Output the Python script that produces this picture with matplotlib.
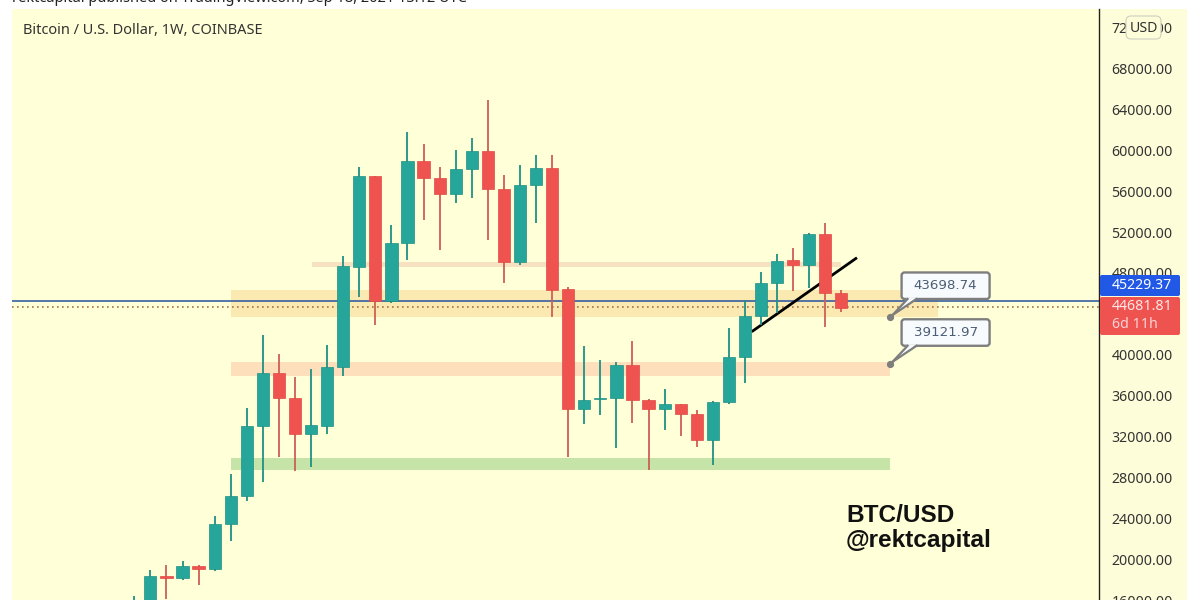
import matplotlib
matplotlib.use("Agg")
import matplotlib.pyplot as plt
from matplotlib.patches import FancyBboxPatch, Polygon, Rectangle
from matplotlib.lines import Line2D
from matplotlib.transforms import IdentityTransform

W, H = 1200, 600

# weekly candles
opens = [14063, 15432, 18396, 18142, 19344, 19051, 23423, 26220, 33007, 38190, 35804, 32254, 33066, 38836, 48615,
         57486, 45261, 50963, 58953, 57320, 55755, 58200, 59931, 56244, 49105, 56606, 58239, 46406, 34670, 35648,
         35746, 38972, 35550, 34699, 35217, 34181, 31667, 35354, 39814, 43794, 46992, 49242, 48782, 51785, 46014]
highs = [16410, 18953, 19443, 19833, 19443, 24234, 28312, 34767, 41936, 40078, 37858, 38581, 40958, 49662, 58337,
         57486, 52665, 61760, 60616, 58396, 60029, 61173, 64919, 57584, 58533, 59540, 59569, 46660, 40890, 39491,
         39326, 41349, 35677, 36626, 35217, 34601, 35481, 42591, 45359, 48127, 49828, 50474, 51882, 52861, 46337]
lows = [14000, 14552, 16068, 17975, 17486, 18885, 21819, 25731, 27589, 30034, 28664, 29056, 32254, 37974, 45682,
        42914, 45066, 49271, 53183, 50249, 54875, 55364, 51227, 46992, 48782, 52861, 43726, 29975, 33232, 34112,
        30914, 33300, 28733, 32645, 32088, 30953, 29222, 35159, 37271, 42914, 44088, 46239, 46533, 42748, 44186]
closes = [15628, 18396, 18142, 19344, 19080, 23423, 26190, 33036, 38190, 35804, 32254, 33105, 38836, 48684, 57486,
          45261, 50963, 58953, 57320, 55755, 58200, 59931, 56244, 49105, 56577, 58239, 46366, 34699, 35579, 35746,
          38972, 35550, 34699, 35217, 34181, 31667, 35383, 39814, 43794, 46992, 49203, 48782, 51785, 46014, 44606]

# horizontal zones: first candle, last candle, low, high, colour
zone_names = ["top", "mid", "low", "floor"]
zone_x0 = [11.04, 6.02, 6.02, 6.02]
zone_x1 = [44.0, 50.0, 47.0, 47.0]
zone_lo = [48615, 43667, 37974, 28733]
zone_hi = [49105, 46337, 39325, 29908]
zone_col = ["#F6E2C0", "#FBE9B2", "#FDDFBC", "#C6E4A8"]

trend_x = [38.42, 44.97]
trend_y = [42258, 49496]

last_price = 45229.37
mark_price = 44681.81
callout_prices = [43698.74, 39121.97]
callout_x = 47.0

# 44000 is hidden behind the price tags in the source
price_ticks = [16000, 20000, 24000, 28000, 32000, 36000, 40000, 48000,
               52000, 56000, 60000, 64000, 68000, 72000]

GREEN = "#26A69A"
RED = "#EF5350"
GREEN_WICK = "#1F9184"
RED_WICK = "#CC5F58"
BG = "#FFFFD8"
FONT = "Noto Sans"

fig = plt.figure(figsize=(W / 100, H / 100), dpi=100, facecolor="white")

# right hand price scale background, under the axes
fig.add_artist(Rectangle((1099 / W, 0), 88 / W, 591 / H, transform=fig.transFigure, fc="#FDFDD9", ec="none", zorder=-1))

# axes runs a bit past the bottom edge so the 16000 label is cut like the source
ax = fig.add_axes([12 / W, -20 / H, 1087 / W, 611 / H], facecolor=BG)
ax.set_xlim((12 - 134.3) / 16.07, (1099 - 134.3) / 16.07)
ax.set_ylim(74699 - 97.8 * 620, 74699 - 97.8 * 9)

for s in ["top", "left", "bottom"]:
    ax.spines[s].set_visible(False)
ax.spines["right"].set_color("#222222")
ax.spines["right"].set_linewidth(1.0)
ax.set_xticks([])
ax.yaxis.tick_right()
ax.set_yticks(price_ticks)
ax.set_yticklabels(["%.2f" % p for p in price_ticks], fontsize=10.2, color="#333333", family=FONT)
ax.tick_params(axis="y", length=0, pad=9)

for i in range(len(zone_names)):
    ax.fill_between([zone_x0[i], zone_x1[i]], zone_lo[i], zone_hi[i], color=zone_col[i], lw=0, zorder=1)

ax.axhline(last_price, color="#24529E", lw=1.1, zorder=1.5)
ax.axhline(mark_price, color="#A9724A", lw=1.2, ls=(0, (1.0, 2.0)), zorder=1.5)

ax.plot(trend_x, trend_y, color="black", lw=2.0, zorder=2, solid_capstyle="butt")

for i in range(len(opens)):
    up = closes[i] >= opens[i]
    ax.vlines(i, lows[i], highs[i], color=GREEN_WICK if up else RED_WICK, lw=1.3, zorder=3)
    ax.bar(i, abs(closes[i] - opens[i]), bottom=min(opens[i], closes[i]), width=0.76,
           color=GREEN if up else RED, edgecolor=GREEN_WICK if up else "#E04A46", lw=0.5, zorder=4)


# callout boxes hang off the price point in pixels
def callout(price):
    px, py = ax.transData.transform((callout_x, price))
    tr = IdentityTransform()
    edge = "#7E7E7E"
    fig.add_artist(FancyBboxPatch((px + 12, py + 18), 88, 26.5, boxstyle="round,pad=0,rounding_size=3",
                                  fc="#F8FBFE", ec=edge, lw=1.7, transform=tr, zorder=6))
    fig.add_artist(Polygon([(px + 5, py + 3), (px + 18, py + 19.5), (px + 27, py + 19.5)], closed=True,
                           fc="#F8FBFE", ec="none", transform=tr, zorder=7))
    fig.add_artist(Line2D([px + 3, px + 18], [py + 2, py + 18], color=edge, lw=1.6, transform=tr, zorder=7))
    fig.add_artist(Line2D([px + 3, px + 27], [py + 2, py + 18], color=edge, lw=1.6, transform=tr, zorder=7))
    ax.plot([callout_x], [price], "o", ms=4.2, color="#7E7E7E", zorder=6, clip_on=False)
    fig.text((px + 56) / W, (py + 31) / H, "%.2f" % price, fontsize=9.6, color="#4B5E75",
             ha="center", va="center", zorder=8)


for p in callout_prices:
    callout(p)

# last price tags over the scale
fig_tr = IdentityTransform()
ax.add_patch(FancyBboxPatch((1100, H - 296), 80, 21, boxstyle="round,pad=0,rounding_size=2",
                            fc="#2159E6", ec="none", transform=fig_tr, clip_on=False, zorder=9))
ax.add_patch(FancyBboxPatch((1100, H - 335), 80, 38, boxstyle="round,pad=0,rounding_size=2",
                            fc=RED, ec="none", transform=fig_tr, clip_on=False, zorder=9))
ax.text(1112 / W, 1 - 285.5 / H, "%.2f" % last_price, transform=fig.transFigure, fontsize=10.2, color="white",
        family=FONT, va="center", zorder=10, clip_on=False)
ax.text(1112 / W, 1 - 307 / H, "%.2f" % mark_price, transform=fig.transFigure, fontsize=10.2, color="#FCE8E8",
        family=FONT, va="center", zorder=10, clip_on=False)
ax.text(1112 / W, 1 - 324.5 / H, "6d 11h", transform=fig.transFigure, fontsize=10.2, color="#FAD4D4",
        family=FONT, va="center", zorder=10, clip_on=False)

# USD button sits over the 72000 label
ax.add_patch(FancyBboxPatch((1126, H - 39), 35, 23, boxstyle="round,pad=0,rounding_size=5",
                            fc="#FDFDD9", ec="#CFCFC0", lw=0.8, transform=fig_tr, clip_on=False, zorder=9))
ax.text(1143.5 / W, 1 - 28 / H, "USD", transform=fig.transFigure, fontsize=10.2, color="#333333",
        family=FONT, ha="center", va="center", zorder=10, clip_on=False)

fig.text(23 / W, 1 - 30 / H, "Bitcoin / U.S. Dollar, 1W, COINBASE", fontsize=10.5, color="#333333",
         family=FONT, va="center")
fig.text(12 / W, 1 + 2 / H, "rektcapital published on TradingView.com, Sep 18, 2021 13:12 UTC", fontsize=10.5,
         color="#222222", family=FONT, va="center")

fig.text(846 / W, 1 - 516 / H, "BTC/USD", family="Liberation Sans", weight="bold", fontsize=17.6, color="#111111", va="center")
fig.text(846 / W, 1 - 541 / H, "@rektcapital", family="Liberation Sans", weight="bold", fontsize=17.6, color="#111111", va="center")

fig.savefig("out.png", dpi=100)
